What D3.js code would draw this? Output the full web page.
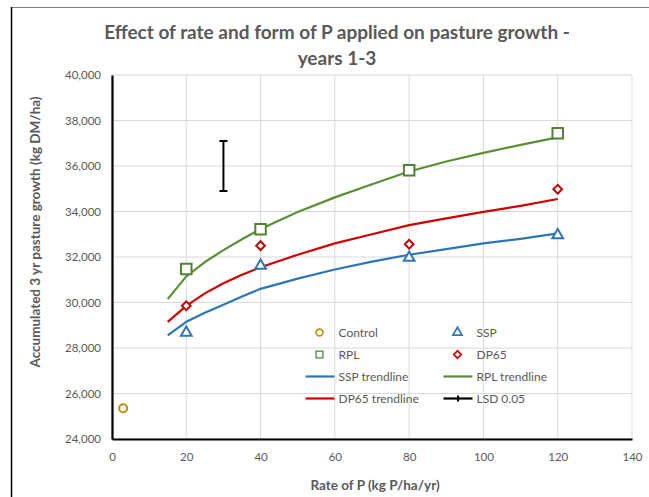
<!DOCTYPE html>
<html><head><meta charset="utf-8">
<script src="https://cdn.jsdelivr.net/npm/d3@7"></script>
<style>body{margin:0;background:#fff;} svg{display:block;}</style>
</head><body>
<script>
// ---- data ----
const controlX = [3];
const controlY = [25350];
const rates = [20, 40, 80, 120];
const sspValues = [28720, 31660, 32010, 33000];
const rplValues = [31470, 33220, 35810, 37440];
const dp65Values = [29860, 32500, 32560, 34980];
const trendX = [15, 20, 25, 30, 35, 40, 50, 60, 70, 80, 90, 100, 110, 120];
const sspTrend  = [28550, 29150, 29550, 29900, 30260, 30600, 31050, 31450, 31800, 32100, 32350, 32600, 32800, 33040];
const rplTrend  = [30150, 31150, 31780, 32300, 32780, 33230, 33980, 34620, 35200, 35760, 36200, 36580, 36930, 37260];
const dp65Trend = [29150, 29850, 30400, 30850, 31220, 31550, 32100, 32600, 33000, 33400, 33700, 33980, 34250, 34550];
const lsdX = [30, 30];
const lsdY = [34900, 37100];
const xTicks = [0, 20, 40, 60, 80, 100, 120, 140];
const yTicks = [24000, 26000, 28000, 30000, 32000, 34000, 36000, 38000, 40000];
const titleLines = ["Effect of rate and form of P applied on pasture growth -", "years 1-3"];
const xTitle = "Rate of P  (kg P/ha/yr)";
const yTitle = "Accumulated  3 yr pasture growth (kg DM/ha)";

const W = 649, H = 497;
const font = "Lato, 'Open Sans', sans-serif";
const textCol = "#595959";
const cBlue = "#2E75B6", cGreen = "#548235", cRed = "#C00000", cGold = "#BF9000";
const lGreen = "#5B8F35", lRed = "#D00000";

const svg = d3.select("body").append("svg").attr("width", W).attr("height", H);
svg.append("rect").attr("width", W).attr("height", H).attr("fill", "#fff");

// frame of the cropped chart
svg.append("line").attr("x1", 11.5).attr("x2", W).attr("y1", 7.5).attr("y2", 7.5).attr("stroke", "#7f7f7f").attr("stroke-width", 1.2);
svg.append("line").attr("x1", 11.5).attr("x2", 11.5).attr("y1", 7).attr("y2", H).attr("stroke", "#000").attr("stroke-width", 1.5);

const x = d3.scaleLinear().domain([0, 140]).range([112, 632]);
const y = d3.scaleLinear().domain([24000, 40000]).range([439, 75]);

// gridlines
const grid = svg.append("g");
grid.selectAll("line.h").data(yTicks).join("line")
  .attr("x1", x(0)).attr("x2", x(140)).attr("y1", d => y(d)).attr("y2", d => y(d))
  .attr("stroke", "#d9d9d9").attr("stroke-width", 1);
grid.selectAll("line.v").data(xTicks).join("line")
  .attr("x1", d => x(d)).attr("x2", d => x(d)).attr("y1", y(24000)).attr("y2", y(40000))
  .attr("stroke", "#d9d9d9").attr("stroke-width", 1);

// axes
const fmt = d3.format(",");
const yAxis = svg.append("g").attr("transform", `translate(${x(0)},0)`)
  .call(d3.axisLeft(y).tickValues(yTicks).tickFormat(fmt).tickSize(0).tickPadding(11));
const xAxis = svg.append("g").attr("transform", `translate(0,${y(24000)})`)
  .call(d3.axisBottom(x).tickValues(xTicks).tickSize(0).tickPadding(14));
[xAxis, yAxis].forEach(g => {
  g.select(".domain").attr("stroke", "#000").attr("stroke-width", 2.2);
  g.selectAll("text").attr("font-family", font).attr("font-size", 11.5).attr("fill", textCol);
});

// trendlines
const line = d3.line().x(d => x(d[0])).y(d => y(d[1]));
[[sspTrend, cBlue], [rplTrend, lGreen], [dp65Trend, lRed]].forEach(([vals, c]) => {
  svg.append("path").datum(trendX.map((t, i) => [t, vals[i]]))
    .attr("d", line).attr("fill", "none").attr("stroke", c).attr("stroke-width", 2.2)
    .attr("stroke-linejoin", "round");
});

// LSD bar
svg.append("path").datum(lsdX.map((t, i) => [t, lsdY[i]])).attr("d", line)
  .attr("stroke", "#000").attr("stroke-width", 2).attr("fill", "none");
lsdY.forEach(v => {
  svg.append("line").attr("x1", x(30) - 4).attr("x2", x(30) + 4).attr("y1", y(v)).attr("y2", y(v))
    .attr("stroke", "#000").attr("stroke-width", 2);
});

// markers
const sym = {
  circle: d3.symbol().type(d3.symbolCircle).size(50),
  square: d3.symbol().type(d3.symbolSquare).size(110),
  triangle: d3.symbol().type(d3.symbolTriangle).size(50),
  diamond: d3.symbol().type(d3.symbolSquare).size(38)
};
function marker(g, type, cx, cy, color) {
  const p = g.append("path").attr("d", sym[type]()).attr("fill", "#fff")
    .attr("stroke", color).attr("stroke-width", 2);
  p.attr("transform", `translate(${cx},${cy})` + (type === "diamond" ? " rotate(45)" : ""));
}
controlX.forEach((v, i) => marker(svg, "circle", x(v), y(controlY[i]), cGold));
rates.forEach((r, i) => {
  marker(svg, "square", x(r), y(rplValues[i]), cGreen);
  marker(svg, "diamond", x(r), y(dp65Values[i]), cRed);
  marker(svg, "triangle", x(r), y(sspValues[i]) + 1, cBlue);
});

// legend
const leg = svg.append("g").attr("font-family", font).attr("font-size", 12).attr("fill", textCol);
const legItems = [
  {t: "Control", k: "circle", c: cGold, col: 0, row: 0},
  {t: "SSP", k: "triangle", c: cBlue, col: 1, row: 0},
  {t: "RPL", k: "square", c: cGreen, col: 0, row: 1},
  {t: "DP65", k: "diamond", c: cRed, col: 1, row: 1},
  {t: "SSP trendline", k: "line", c: cBlue, col: 0, row: 2},
  {t: "RPL trendline", k: "line", c: lGreen, col: 1, row: 2},
  {t: "DP65 trendline", k: "line", c: lRed, col: 0, row: 3},
  {t: "LSD 0.05", k: "lsd", c: "#000", col: 1, row: 3}
];
const colX = [305.5, 443.5], rowY = [332.5, 354.5, 376.5, 398.5];
legItems.forEach(it => {
  const lx = colX[it.col], ly = rowY[it.row];
  if (it.k === "line" || it.k === "lsd") {
    leg.append("line").attr("x1", lx).attr("x2", lx + 29).attr("y1", ly).attr("y2", ly)
      .attr("stroke", it.c).attr("stroke-width", 2.2);
    if (it.k === "lsd") {
      leg.append("line").attr("x1", lx + 14.5).attr("x2", lx + 14.5).attr("y1", ly - 3).attr("y2", ly + 3)
        .attr("stroke", "#000").attr("stroke-width", 2);
    }
  } else {
    const s = it.k === "square" ? 0.65 : 0.85;
    const p = leg.append("path").attr("d", sym[it.k]()).attr("fill", "#fff").attr("stroke", it.c).attr("stroke-width", 2);
    p.attr("transform", `translate(${lx + 14},${ly}) scale(${s})` + (it.k === "diamond" ? " rotate(45)" : ""));
  }
  leg.append("text").attr("x", lx + 33).attr("y", ly).attr("dy", "0.36em").text(it.t);
});

// titles
const title = svg.append("g").attr("font-family", font).attr("font-weight", "bold").attr("fill", textCol).attr("text-anchor", "middle");
titleLines.forEach((t, i) => {
  title.append("text").attr("x", 337).attr("y", 32 + i * 26).attr("dy", "0.36em").attr("font-size", 19).text(t);
});
svg.append("text").attr("x", 375).attr("y", 485).attr("dy", "0.36em").attr("text-anchor", "middle")
  .attr("font-family", font).attr("font-weight", "bold").attr("font-size", 13.5).attr("fill", textCol).text(xTitle);
svg.append("text").attr("transform", "translate(35,232) rotate(-90)").attr("dy", "0.36em").attr("text-anchor", "middle")
  .attr("font-family", font).attr("font-weight", "bold").attr("font-size", 13.5).attr("fill", textCol).text(yTitle);
</script>
</body></html>
